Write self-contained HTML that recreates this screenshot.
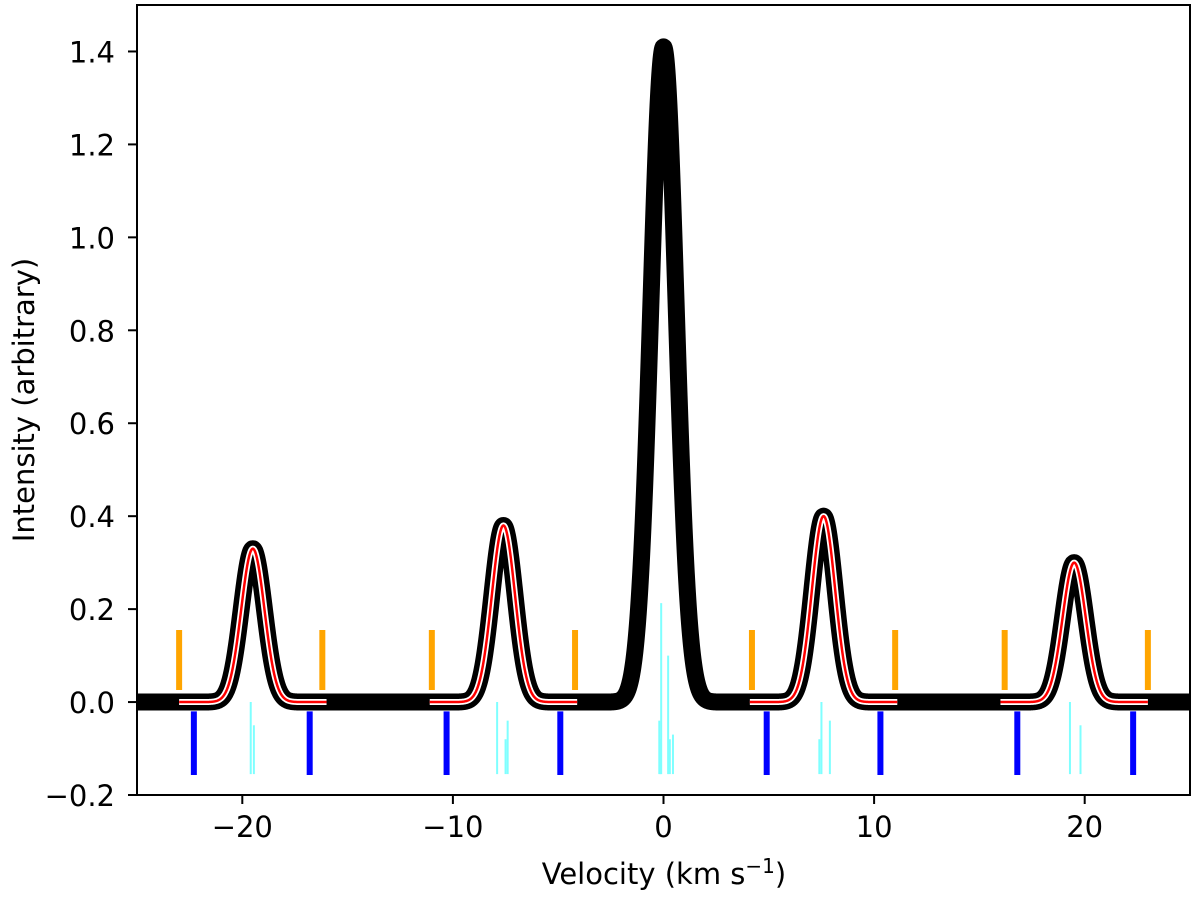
<!DOCTYPE html>
<html><head><meta charset="utf-8"><style>
body{margin:0;background:#fff;}
svg text{font-family:"DejaVu Sans","Liberation Sans",sans-serif;}
</style></head><body>
<svg id="chart" width="1200" height="896" viewBox="0 0 1200 896" xmlns="http://www.w3.org/2000/svg">
<defs><clipPath id="clip"><rect x="137" y="5" width="1053" height="790"/></clipPath></defs>
<g id="plot" clip-path="url(#clip)"></g>
<g id="axes"></g>
</svg>
<script>
const peakCenters=[-19.5,-7.6,0,7.6,19.5];
const peakAmps=[0.33,0.38,1.41,0.40,0.30];
const peakSigma=[0.55,0.55,0.6,0.55,0.55];
const fitCenters=[-19.5,-7.6,7.6,19.5];
const fitAmps=[0.33,0.38,0.40,0.30];
const orangeX=[-23,-16.2,-11,-4.2,4.2,11,16.2,23];
const blueX=[-22.3,-16.8,-10.3,-4.9,4.9,10.3,16.8,22.3];
const cyanX=[-19.6,-19.45,-7.9,-7.4,-7.5,-0.2,-0.11,-0.15,0.22,0.3,0.45,7.4,7.5,7.9,19.3,19.8];
const cyanTop=[0.0,-0.05,0.0,-0.04,-0.08,-0.04,0.213,-0.08,0.10,-0.08,-0.07,-0.08,0.0,-0.04,0.0,-0.05];
const xTicks=[-20,-10,0,10,20];
const xTickLabels=["\u221220","\u221210","0","10","20"];
const yTicks=[-0.2,0,0.2,0.4,0.6,0.8,1.0,1.2,1.4];
const yTickLabels=["\u22120.2","0.0","0.2","0.4","0.6","0.8","1.0","1.2","1.4"];
const X0=137,X1=1190,Y0=795,Y1=5;
const xs=v=>X0+(v+25)/50*(X1-X0);
const ys=v=>Y0-(v+0.2)/1.7*(Y0-Y1);
const NS="http://www.w3.org/2000/svg";
const plot=document.getElementById('plot'),axes=document.getElementById('axes');
function mk(tag,attrs,parent){const e=document.createElementNS(NS,tag);for(const k in attrs)e.setAttribute(k,attrs[k]);parent.appendChild(e);return e;}
function gauss(v,cs,as,ss){let s=0;for(let i=0;i<cs.length;i++){const sg=ss?ss[i]:0.55;s+=as[i]*Math.exp(-0.5*((v-cs[i])/sg)**2);}return s;}
let d="";for(let v=-26;v<=26;v+=0.02){d+=(d?"L":"M")+xs(v).toFixed(2)+","+ys(gauss(v,peakCenters,peakAmps,peakSigma)).toFixed(2);}
const tl=mk('path',{d:d,fill:'none',stroke:'#000','stroke-width':17,'stroke-linejoin':'round'},plot);


fitCenters.forEach((c,i)=>{let p="";for(let v=c-3.5;v<=c+3.5001;v+=0.02){p+=(p?"L":"M")+xs(v).toFixed(2)+","+ys(fitAmps[i]*Math.exp(-0.5*((v-c)/0.55)**2)).toFixed(2);}
 const w=mk('path',{d:p,fill:'none',stroke:'#fff','stroke-width':6},plot);
 
 
 const r=mk('path',{d:p,fill:'none',stroke:'#f00','stroke-width':2.5},plot);
 
 
});
orangeX.forEach(v=>{const l=mk('line',{x1:xs(v),x2:xs(v),y1:ys(0.026),y2:ys(0.155),stroke:'#ffa500','stroke-width':6},plot);
 
 });
blueX.forEach(v=>{const l=mk('line',{x1:xs(v),x2:xs(v),y1:ys(-0.02),y2:ys(-0.157),stroke:'#0000ff','stroke-width':6},plot);
 
 });
cyanX.forEach((v,i)=>{const l=mk('line',{x1:xs(v),x2:xs(v),y1:ys(cyanTop[i]),y2:ys(-0.155),stroke:'#7fffff','stroke-width':2},plot);
 
 });
mk('rect',{x:X0,y:Y1,width:X1-X0,height:Y0-Y1,fill:'none',stroke:'#000','stroke-width':2},axes);
xTicks.forEach((v,i)=>{mk('line',{x1:xs(v),x2:xs(v),y1:Y0,y2:Y0+9,stroke:'#000','stroke-width':2},axes);
 const t=mk('text',{x:xs(v),y:Y0+42,'text-anchor':'middle','font-size':29},axes);t.textContent=xTickLabels[i];
 
 });
yTicks.forEach((v,i)=>{mk('line',{x1:X0-9,x2:X0,y1:ys(v),y2:ys(v),stroke:'#000','stroke-width':2},axes);
 const t=mk('text',{x:X0-22,y:ys(v)+11,'text-anchor':'end','font-size':29},axes);t.textContent=yTickLabels[i];
 
 });
const xl=mk('text',{x:664,y:884,'text-anchor':'middle','font-size':29},axes);
xl.innerHTML='Velocity (km s<tspan dy="-11" font-size="20">\u22121</tspan><tspan dy="11">)</tspan>';


const yl=mk('text',{x:0,y:0,'text-anchor':'middle','font-size':29,transform:'translate(34,400) rotate(-90)'},axes);
yl.textContent='Intensity (arbitrary)';


</script>
</body></html>
